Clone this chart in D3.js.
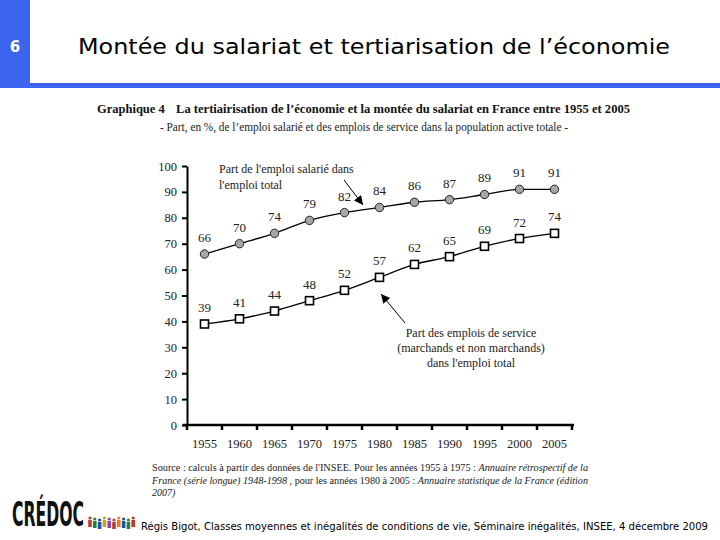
<!DOCTYPE html>
<html><head><meta charset="utf-8">
<script src="https://cdn.jsdelivr.net/npm/d3@7"></script>
<style>
html,body{margin:0;padding:0;background:#fff;}
svg{display:block;}
</style></head>
<body>
<svg id="c" width="720" height="540"></svg>
<script>
const years = [1955,1960,1965,1970,1975,1980,1985,1990,1995,2000,2005];
const salaried = [66,70,74,79,82,84,86,87,89,91,91];
const services = [39,41,44,48,52,57,62,65,69,72,74];
const yTicks = [0,10,20,30,40,50,60,70,80,90,100];

const svg = d3.select("#c");
const blue = "#3c64ee";
const serif = "'Liberation Serif','DejaVu Serif',serif";

// header
svg.append("rect").attr("x",0).attr("y",0).attr("width",30).attr("height",86).attr("fill",blue);
svg.append("rect").attr("x",0).attr("y",83).attr("width",720).attr("height",5).attr("fill",blue);
svg.append("text").attr("x",15).attr("y",52).attr("text-anchor","middle")
  .attr("font-family","'DejaVu Sans',sans-serif").attr("font-weight","bold").attr("font-size",15)
  .attr("fill","#fff").text("6");
svg.append("text").attr("x",78).attr("y",54)
  .attr("font-family","'DejaVu Sans',sans-serif").attr("font-size",22)
  .attr("textLength",592).attr("lengthAdjust","spacingAndGlyphs")
  .attr("fill","#000").text("Montée du salariat et tertiarisation de l’économie");

// chart titles
const t1 = svg.append("text").attr("x",97).attr("y",113).attr("font-family",serif)
  .attr("font-size",12.5).attr("font-weight","bold").attr("fill","#111");
t1.append("tspan").text("Graphique 4");
t1.append("tspan").attr("x",176).attr("textLength",454).attr("lengthAdjust","spacingAndGlyphs")
  .text("La tertiairisation de l’économie et la montée du salariat en France entre 1955 et 2005");
svg.append("text").attr("x",160).attr("y",131).attr("font-family",serif).attr("font-size",11.5)
  .attr("textLength",408).attr("lengthAdjust","spacingAndGlyphs").attr("fill","#222")
  .text("- Part, en %, de l’emploi salarié et des emplois de service dans la population active totale -");

// scales
const x = d3.scaleBand().domain(years).range([187,572]).padding(0);
const y = d3.scaleLinear().domain([0,100]).range([425,166]);
const cx = d => x(d) + x.bandwidth()/2;

// y axis
const ya = svg.append("g").attr("transform","translate(187,0)")
  .call(d3.axisLeft(y).tickValues(yTicks).tickSize(5).tickPadding(5).tickSizeOuter(0));
ya.select(".domain").attr("stroke","#000").attr("stroke-width",2);
ya.selectAll(".tick line").attr("stroke","#000").attr("stroke-width",2);
ya.selectAll(".tick text").attr("font-family",serif).attr("font-size",12.5).attr("fill","#222");

// x axis (labels centered in bands, ticks at band boundaries)
const xa = svg.append("g").attr("transform","translate(0,425)")
  .call(d3.axisBottom(x).tickSize(0).tickPadding(14));
xa.select(".domain").remove();
xa.selectAll(".tick text").attr("font-family",serif).attr("font-size",12.5).attr("fill","#222");
svg.append("line").attr("x1",183).attr("x2",574).attr("y1",425).attr("y2",425)
  .attr("stroke","#000").attr("stroke-width",2.5);
const bounds = years.map(d => x(d)).concat([x.range()[1]]);
svg.append("g").selectAll("line").data(bounds).join("line")
  .attr("x1",d=>d).attr("x2",d=>d).attr("y1",425).attr("y2",430)
  .attr("stroke","#000").attr("stroke-width",2.5);

// lines
const line = d3.line().x((d,i)=>cx(years[i])).y(d=>y(d)).curve(d3.curveMonotoneX);
svg.append("path").datum(salaried).attr("d",line).attr("fill","none").attr("stroke","#000").attr("stroke-width",1.3);
svg.append("path").datum(services).attr("d",line).attr("fill","none").attr("stroke","#000").attr("stroke-width",1.3);

// markers
svg.append("g").selectAll("circle").data(salaried).join("circle")
  .attr("cx",(d,i)=>cx(years[i])).attr("cy",d=>y(d)).attr("r",4.2)
  .attr("fill","#a6a6a6").attr("stroke","#222").attr("stroke-width",1);
svg.append("g").selectAll("rect").data(services).join("rect")
  .attr("x",(d,i)=>cx(years[i])-4).attr("y",d=>y(d)-4).attr("width",8).attr("height",8)
  .attr("fill","#fff").attr("stroke","#000").attr("stroke-width",1.6);

// value labels
[salaried, services].forEach(s => {
  svg.append("g").selectAll("text").data(s).join("text")
    .attr("x",(d,i)=>cx(years[i])).attr("y",d=>y(d)-12).attr("text-anchor","middle")
    .attr("font-family",serif).attr("font-size",13).attr("fill","#222").text(d=>d);
});

// arrows
const defs = svg.append("defs");
defs.append("marker").attr("id","ah").attr("viewBox","0 0 10 10").attr("refX",10).attr("refY",5)
  .attr("markerWidth",11).attr("markerHeight",9).attr("markerUnits","userSpaceOnUse").attr("orient","auto")
  .append("path").attr("d","M0,0L10,5L0,10Z").attr("fill","#000");
svg.append("line").attr("x1",344).attr("y1",180).attr("x2",363).attr("y2",205)
  .attr("stroke","#000").attr("stroke-width",1).attr("marker-end","url(#ah)");
svg.append("line").attr("x1",405).attr("y1",323).attr("x2",381).attr("y2",294)
  .attr("stroke","#000").attr("stroke-width",1).attr("marker-end","url(#ah)");

// annotations
const ann = (tx, ty, lines, anchor, dy) => {
  lines.forEach((l,i)=>svg.append("text").attr("x",tx).attr("y",ty+i*dy).attr("text-anchor",anchor)
    .attr("font-family",serif).attr("font-size",12).attr("fill","#222").text(l));
};
ann(219,173,["Part de l'emploi salarié dans","l'emploi total"],"start",15.5);
ann(471,337,["Part des emplois de service","(marchands et non marchands)","dans l'emploi total"],"middle",15);

// source
const src = [
  [["Source : calculs à partir des données de l'INSEE. Pour les années 1955 à 1975 : ",false],["Annuaire rétrospectif de la",true]],
  [["France (série longue) 1948-1998",true],[" , pour les années 1980 à 2005 : ",false],["Annuaire statistique de la France (édition",true]],
  [["2007)",true]]
];
const srcLen = [436, 436, null];
src.forEach((parts,i)=>{
  const t = svg.append("text").attr("x",152).attr("y",471+i*12.5).attr("font-family",serif)
    .attr("font-size",10).attr("fill","#222");
  if (srcLen[i]) t.attr("textLength",srcLen[i]).attr("lengthAdjust","spacingAndGlyphs");
  parts.forEach(p=>t.append("tspan").attr("font-style",p[1]?"italic":"normal").text(p[0]));
});

// logo
svg.append("text").attr("x",12).attr("y",526).attr("font-family","'DejaVu Sans Condensed','DejaVu Sans',sans-serif")
  .attr("font-weight","bold").attr("font-size",34).attr("textLength",72).attr("lengthAdjust","spacingAndGlyphs")
  .attr("fill","#111").text("CRÉDOC");
const figCols = ["#c0392b","#2e7d32","#1f4fa8","#d4a017","#8e44ad","#c0392b","#e67e22","#1f4fa8","#2e7d32","#c0392b"];
svg.append("g").selectAll("g").data(figCols).join("g").each(function(c,i){
  const g = d3.select(this), fx = 90 + i*4.8, fy = 518 + (i%3);
  g.append("circle").attr("cx",fx).attr("cy",fy).attr("r",1.6).attr("fill",c);
  g.append("rect").attr("x",fx-1.8).attr("y",fy+2).attr("width",3.6).attr("height",7).attr("fill",c);
});

// footer
svg.append("text").attr("x",141).attr("y",530).attr("font-family","'DejaVu Sans Condensed','DejaVu Sans',sans-serif")
  .attr("font-size",9.8).attr("textLength",567).attr("lengthAdjust","spacingAndGlyphs").attr("fill","#000")
  .text("Régis Bigot, Classes moyennes et inégalités de conditions de vie, Séminaire inégalités, INSEE, 4 décembre 2009");
</script>
</body></html>
